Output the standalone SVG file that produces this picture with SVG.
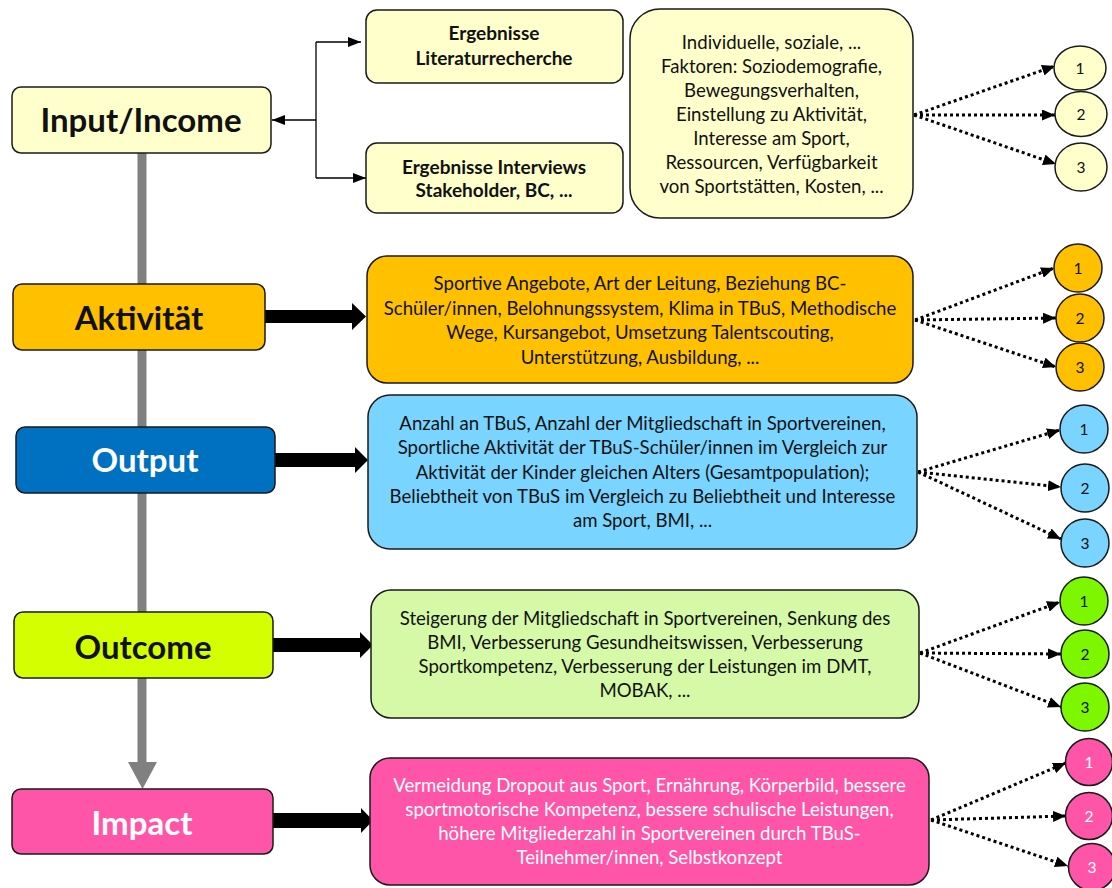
<svg xmlns="http://www.w3.org/2000/svg" width="1112" height="888" viewBox="0 0 1112 888">
  <defs>
    <style>
      .box { stroke: #1a1a1a; stroke-width: 1.5; }
      .yel { fill: #FFFFCC; }
      .org { fill: #FFC000; }
      .blu { fill: #0070C0; }
      .lblu { fill: #79D4FF; }
      .lime { fill: #D4FF00; }
      .lgrn { fill: #D6F9A8; }
      .grn { fill: #7CF700; }
      .pnk { fill: #FF55A8; }
      .t { font-family: Lato, "Open Sans", "Liberation Sans", sans-serif; fill: #111; text-anchor: middle; }
      .body { font-size: 18.6px; }
      .small { font-size: 18.6px; }
      .sub { font-size: 19px; font-weight: bold; }
      .main { font-size: 33px; font-weight: bold; }
      .num { font-size: 15.5px; }
      .wht { fill: #ffffff; }
      .dot { fill: none; stroke: #000; stroke-width: 3; stroke-dasharray: 3 3; marker-end: url(#tri); }
      .thin { fill: none; stroke: #000; stroke-width: 1.3; }
      .heavy { fill: #000; }
    </style>
    <marker id="tri" markerUnits="userSpaceOnUse" markerWidth="13" markerHeight="11" refX="13" refY="5.5" orient="auto">
      <path d="M0,0 L13,5.5 L0,11 z" fill="#000"/>
    </marker>
    <marker id="sm" markerUnits="userSpaceOnUse" markerWidth="13" markerHeight="10" refX="13" refY="5" orient="auto">
      <path d="M0,0 L13,5 L0,10 z" fill="#000"/>
    </marker>
  </defs>

  <rect width="1112" height="888" fill="#ffffff"/>

  <!-- connectors -->
  <g id="connectors">
    <!-- gray spine running down through the stages -->
    <rect x="137.5" y="153" width="9" height="610" fill="#808080"/>
    <polygon points="128,762 157,762 142.5,789" fill="#808080"/>

    <!-- input branch -->
    <path class="thin" d="M316,42 L316,178"/>
    <path class="thin" d="M316,120 L272,120" marker-end="url(#sm)"/>
    <path class="thin" d="M316,42 L361,42" marker-end="url(#sm)"/>
    <path class="thin" d="M316,178 L366,178" marker-end="url(#sm)"/>

    <!-- heavy arrows from stage labels to detail boxes -->
    <polygon class="heavy" points="265,310 352,310 352,303 366,316.5 352,330 352,323 265,323"/>
    <polygon class="heavy" points="275,453 355,453 355,447 368,460 355,473 355,467 275,467"/>
    <polygon class="heavy" points="273,638 360,638 360,632 373,645 360,658 360,652 273,652"/>
    <polygon class="heavy" points="273,813 361,813 361,808 373,820.5 361,833 361,828 273,828"/>

    <!-- dotted fans to the numbered circles -->
    <path class="dot" d="M914,115 L1055,66"/>
    <path class="dot" d="M914,115 L1055,115"/>
    <path class="dot" d="M914,115 L1056,164"/>

    <path class="dot" d="M915,320 L1054,268"/>
    <path class="dot" d="M915,320 L1056,318"/>
    <path class="dot" d="M915,320 L1056,367"/>

    <path class="dot" d="M918,472 L1060,430"/>
    <path class="dot" d="M918,472 L1061,487"/>
    <path class="dot" d="M918,472 L1061,539"/>

    <path class="dot" d="M920,653 L1060,602"/>
    <path class="dot" d="M920,653 L1061,654"/>
    <path class="dot" d="M920,653 L1061,707"/>

    <path class="dot" d="M931,820 L1066,763"/>
    <path class="dot" d="M931,820 L1066,816"/>
    <path class="dot" d="M931,820 L1068,866"/>
  </g>

  <!-- stage labels -->
  <g id="input">
    <rect class="box yel" x="12" y="87" width="259" height="66" rx="9"/>
    <text class="t main" x="141" y="131.5">Input/Income</text>
  </g>
  <g id="aktivitaet">
    <rect class="box org" x="13" y="284" width="252" height="66" rx="9"/>
    <text class="t main" x="139" y="329.5">Aktivität</text>
  </g>
  <g id="output">
    <rect class="box blu" x="16" y="427" width="259" height="66" rx="9"/>
    <text class="t main wht" x="145" y="471.5">Output</text>
  </g>
  <g id="outcome">
    <rect class="box lime" x="14" y="612" width="259" height="66" rx="9"/>
    <text class="t main" x="143" y="658.5">Outcome</text>
  </g>
  <g id="impact">
    <rect class="box pnk" x="12" y="789" width="261" height="65" rx="9"/>
    <text class="t main wht" x="142" y="834.5">Impact</text>
  </g>

  <!-- input sources -->
  <g id="literatur">
    <rect class="box yel" x="366" y="10" width="257" height="73" rx="11"/>
    <text class="t sub" x="494" y="40">Ergebnisse</text>
    <text class="t sub" x="494" y="65">Literaturrecherche</text>
  </g>
  <g id="interviews">
    <rect class="box yel" x="366" y="143" width="257" height="70" rx="11"/>
    <text class="t sub" x="494" y="174">Ergebnisse Interviews</text>
    <text class="t sub" x="494" y="197">Stakeholder, BC, ...</text>
  </g>

  <!-- detail boxes -->
  <g id="faktoren">
    <rect class="box yel" x="630" y="9" width="283" height="209" rx="30"/>
    <text class="t small" x="771.5" y="49">Individuelle, soziale, ...</text>
    <text class="t small" x="771.5" y="73">Faktoren: Soziodemografie,</text>
    <text class="t small" x="771.5" y="97">Bewegungsverhalten,</text>
    <text class="t small" x="771.5" y="121">Einstellung zu Aktivität,</text>
    <text class="t small" x="771.5" y="145">Interesse am Sport,</text>
    <text class="t small" x="771.5" y="169">Ressourcen, Verfügbarkeit</text>
    <text class="t small" x="771.5" y="193">von Sportstätten, Kosten, ...</text>
  </g>
  <g id="aktivitaet-details">
    <rect class="box org" x="367" y="256" width="546" height="127" rx="20"/>
    <text class="t body" x="640" y="289.5">Sportive Angebote, Art der Leitung, Beziehung BC-</text>
    <text class="t body" x="640" y="314.5">Schüler/innen, Belohnungssystem, Klima in TBuS, Methodische</text>
    <text class="t body" x="640" y="338.5">Wege, Kursangebot, Umsetzung Talentscouting,</text>
    <text class="t body" x="640" y="363.5">Unterstützung, Ausbildung, ...</text>
  </g>
  <g id="output-details">
    <rect class="box lblu" x="368" y="395" width="549" height="154" rx="22"/>
    <text class="t body" x="642.5" y="429.5">Anzahl an TBuS, Anzahl der Mitgliedschaft in Sportvereinen,</text>
    <text class="t body" x="642.5" y="453.5">Sportliche Aktivität der TBuS-Schüler/innen im Vergleich zur</text>
    <text class="t body" x="642.5" y="478.5">Aktivität der Kinder gleichen Alters (Gesamtpopulation);</text>
    <text class="t body" x="642.5" y="502.5">Beliebtheit von TBuS im Vergleich zu Beliebtheit und Interesse</text>
    <text class="t body" x="642.5" y="526.5">am Sport, BMI, ...</text>
  </g>
  <g id="outcome-details">
    <rect class="box lgrn" x="371" y="590" width="548" height="128" rx="20"/>
    <text class="t body" x="645" y="624.5">Steigerung der Mitgliedschaft in Sportvereinen, Senkung des</text>
    <text class="t body" x="645" y="648.5">BMI, Verbesserung Gesundheitswissen, Verbesserung</text>
    <text class="t body" x="645" y="672.5">Sportkompetenz, Verbesserung der Leistungen im DMT,</text>
    <text class="t body" x="645" y="696.5">MOBAK, ...</text>
  </g>
  <g id="impact-details">
    <rect class="box pnk" x="370" y="758" width="559" height="127" rx="20"/>
    <text class="t body wht" x="649.5" y="791.5">Vermeidung Dropout aus Sport, Ernährung, Körperbild, bessere</text>
    <text class="t body wht" x="649.5" y="815.5">sportmotorische Kompetenz, bessere schulische Leistungen,</text>
    <text class="t body wht" x="649.5" y="839.5">höhere Mitgliederzahl in Sportvereinen durch TBuS-</text>
    <text class="t body wht" x="649.5" y="863.5">Teilnehmer/innen, Selbstkonzept</text>
  </g>

  <!-- numbered circles -->
  <g id="input-circles">
    <ellipse class="box yel" cx="1080" cy="68" rx="26" ry="22"/>
    <text class="t num" x="1080" y="73.5">1</text>
    <ellipse class="box yel" cx="1081" cy="114" rx="26" ry="22.5"/>
    <text class="t num" x="1081" y="119.5">2</text>
    <ellipse class="box yel" cx="1081" cy="167" rx="26" ry="24"/>
    <text class="t num" x="1081" y="172.5">3</text>
  </g>
  <g id="aktivitaet-circles">
    <circle class="box org" cx="1078" cy="268" r="24"/>
    <text class="t num" x="1078" y="273.5">1</text>
    <circle class="box org" cx="1080" cy="318" r="24"/>
    <text class="t num" x="1080" y="323.5">2</text>
    <circle class="box org" cx="1080" cy="367" r="24"/>
    <text class="t num" x="1080" y="372.5">3</text>
  </g>
  <g id="output-circles">
    <circle class="box lblu" cx="1084" cy="429" r="24"/>
    <text class="t num" x="1084" y="434.5">1</text>
    <circle class="box lblu" cx="1085" cy="488" r="24"/>
    <text class="t num" x="1085" y="493.5">2</text>
    <circle class="box lblu" cx="1085" cy="543" r="24"/>
    <text class="t num" x="1085" y="548.5">3</text>
  </g>
  <g id="outcome-circles">
    <circle class="box grn" cx="1084" cy="601" r="24"/>
    <text class="t num" x="1084" y="606.5">1</text>
    <circle class="box grn" cx="1085" cy="654" r="24"/>
    <text class="t num" x="1085" y="659.5">2</text>
    <circle class="box grn" cx="1085" cy="707" r="24"/>
    <text class="t num" x="1085" y="712.5">3</text>
  </g>
  <g id="impact-circles">
    <circle class="box pnk" cx="1089" cy="762" r="23.5"/>
    <text class="t num wht" x="1089" y="767.5">1</text>
    <circle class="box pnk" cx="1089" cy="816" r="23.5"/>
    <text class="t num wht" x="1089" y="821.5">2</text>
    <circle class="box pnk" cx="1092" cy="867" r="23.5"/>
    <text class="t num wht" x="1092" y="872.5">3</text>
  </g>
</svg>
